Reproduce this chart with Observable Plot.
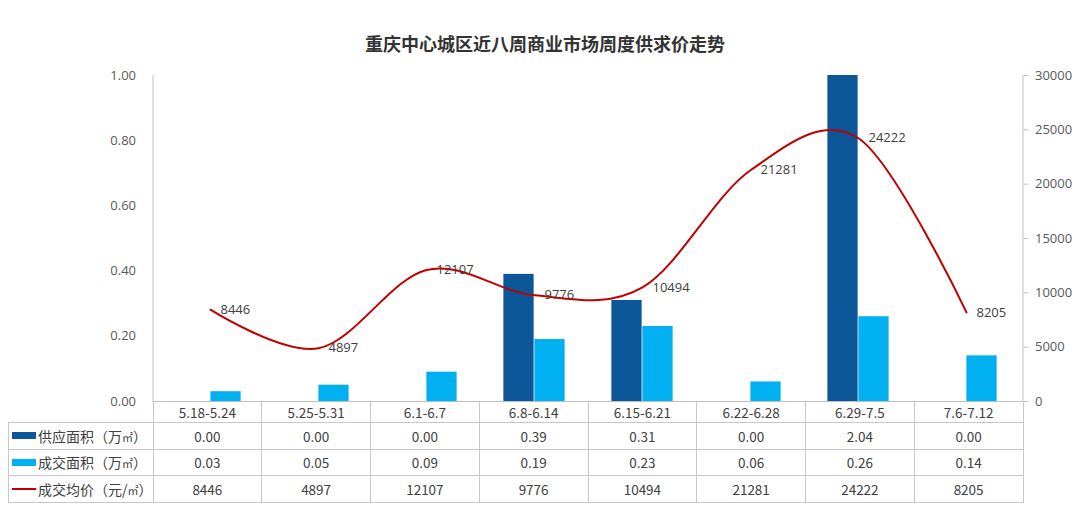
<!DOCTYPE html>
<html>
<head>
<meta charset="utf-8">
<script src="https://cdn.jsdelivr.net/npm/d3@7"></script>
<script src="https://cdn.jsdelivr.net/npm/@observablehq/plot@0.6"></script>
<style>
  html, body { margin: 0; padding: 0; background: #fff; }
  #wrap { position: relative; width: 1080px; height: 508px; overflow: hidden;
          font-family: "Noto Sans CJK SC", "Open Sans", sans-serif; color: #404040; }
  #title { position: absolute; left: 0; width: 1090px; top: 30px; text-align: center;
           font-size: 18px; font-weight: bold; color: #333; }
  #chart { position: absolute; left: 0; top: 0; }
  #tbl { position: absolute; left: 8px; top: 401px; border-collapse: collapse; table-layout: fixed;
         font-size: 13.5px; color: #404040; }
  #tbl td { border: 1px solid #c8c8c8; text-align: center; padding: 0; height: 25.5px; white-space: nowrap; }
  #tbl tr.head td { height: 21px; border-top: none; }
  #tbl tr.head td.blank { border: none; border-right: 1px solid #c8c8c8; }
  #tbl td.lab { text-align: left; padding-left: 3px; font-size: 14px; }
  .sw { display: inline-block; width: 24px; height: 7px; vertical-align: middle; margin-right: 2px; position: relative; top: -2px; }
  .swl { display: inline-block; width: 24px; height: 2px; vertical-align: middle; margin-right: 2px; position: relative; top: -2px; }
  .unit { font-size: 11px; }
</style>
</head>
<body>
<div id="wrap">
  <div id="title">重庆中心城区近八周商业市场周度供求价走势</div>
  <div id="chart"></div>
  <table id="tbl"></table>
</div>
<script>
// ---- data ----
const weeks = ["5.18-5.24", "5.25-5.31", "6.1-6.7", "6.8-6.14", "6.15-6.21", "6.22-6.28", "6.29-7.5", "7.6-7.12"];
const supply = [0.00, 0.00, 0.00, 0.39, 0.31, 0.00, 2.04, 0.00];
const deal = [0.03, 0.05, 0.09, 0.19, 0.23, 0.06, 0.26, 0.14];
const price = [8446, 4897, 12107, 9776, 10494, 21281, 24222, 8205];
const leftTicks = [0, 0.2, 0.4, 0.6, 0.8, 1.0];
const rightTicks = [0, 5000, 10000, 15000, 20000, 25000, 30000];
const seriesNames = ["供应面积（万㎡）", "成交面积（万㎡）", "成交均价（元/㎡）"];

const priceMax = 30000;
const dark = "#0b5797", light = "#00b0f0", red = "#c00000";
const rows = weeks.map((w, i) => ({week: w, supply: supply[i], deal: deal[i], price: price[i]}));

const W = 1080, H = 410, mL = 152.5, mR = 57.5, mT = 75, mB = 9;
const bw = (W - mL - mR) / weeks.length;
const barW = 31;

const chart = Plot.plot({
  width: W, height: H,
  marginLeft: mL, marginRight: mR, marginTop: mT, marginBottom: mB,
  style: {fontFamily: "'Open Sans', 'Noto Sans CJK SC', sans-serif", fontSize: "13px", background: "transparent"},
  x: {type: "band", domain: weeks, padding: 0, axis: null},
  y: {domain: [0, 1], axis: null},
  marks: [
    Plot.barY(rows, {x: "week", y: "supply", fill: dark, insetLeft: bw / 2 - barW, insetRight: bw / 2, clip: true}),
    Plot.barY(rows, {x: "week", y: "deal", fill: light, insetLeft: bw / 2, insetRight: bw / 2 - barW, clip: true}),
    Plot.line(rows, {x: "week", y: d => d.price / priceMax, curve: "cardinal", tension: 0, stroke: red, strokeWidth: 2}),
    Plot.text(rows, {x: "week", y: d => d.price / priceMax, text: d => String(d.price), dx: 10, textAnchor: "start", fill: "#404040", fontSize: 13}),
    Plot.axisY({anchor: "left", ticks: leftTicks, tickFormat: d3.format(".2f"), tickSize: 0, tickPadding: 17, fill: "#595959", label: null, fontSize: 13}),
    Plot.axisY({anchor: "right", ticks: rightTicks.map(v => v / priceMax), tickFormat: d => String(Math.round(d * priceMax)), tickSize: 5, tickPadding: 7, stroke: "#bfbfbf", fill: "#595959", label: null, fontSize: 13}),
    Plot.frame({anchor: "left", stroke: "#bfbfbf"}),
    Plot.frame({anchor: "right", stroke: "#bfbfbf"}),
    Plot.ruleY([0], {stroke: "#bfbfbf"})
  ]
});
document.getElementById("chart").appendChild(chart);

// ---- data table ----
const tbl = document.getElementById("tbl");
const colgroup = document.createElement("colgroup");
const c0 = document.createElement("col"); c0.style.width = (mL - 8) + "px"; colgroup.appendChild(c0);
weeks.forEach(() => { const c = document.createElement("col"); c.style.width = bw + "px"; colgroup.appendChild(c); });
tbl.appendChild(colgroup);

const head = document.createElement("tr"); head.className = "head";
const blank = document.createElement("td"); blank.className = "blank"; head.appendChild(blank);
weeks.forEach(w => { const td = document.createElement("td"); td.textContent = w; head.appendChild(td); });
tbl.appendChild(head);

const seriesVals = [supply.map(v => v.toFixed(2)), deal.map(v => v.toFixed(2)), price.map(String)];
const swatches = [`<span class="sw" style="background:${dark}"></span>`,
                  `<span class="sw" style="background:${light}"></span>`,
                  `<span class="swl" style="background:${red}"></span>`];
seriesNames.forEach((name, k) => {
  const tr = document.createElement("tr");
  const lab = document.createElement("td"); lab.className = "lab";
  lab.innerHTML = swatches[k] + name.replace("㎡", '<span class="unit">㎡</span>');
  tr.appendChild(lab);
  seriesVals[k].forEach(v => { const td = document.createElement("td"); td.textContent = v; tr.appendChild(td); });
  tbl.appendChild(tr);
});
</script>
</body>
</html>
